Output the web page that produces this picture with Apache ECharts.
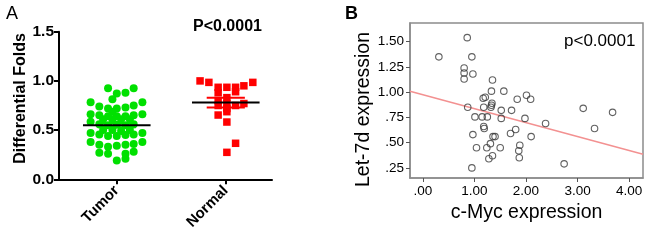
<!DOCTYPE html>
<html>
<head>
<meta charset="utf-8">
<script src="https://cdn.jsdelivr.net/npm/echarts@6.0.0/dist/echarts.min.js"></script>
<style>html,body{margin:0;padding:0;background:#fff;}#c{width:650px;height:243px;}</style>
</head>
<body>
<div id="c"></div>
<script>
// ---------- Panel A data ----------
const categories = ['Tumor', 'Normal'];
const yTicksA = [0, 0.5, 1.0, 1.5];
// jitter offsets (category units) and values
const tumorJitter = [-0.08, 0, 0.08, 0.155,
  -0.04,
  -0.24, 0.235,
  -0.16, -0.08, 0, 0.08, 0.155,
  -0.04,
  -0.24, -0.16, -0.08, 0, 0.08, 0.155, 0.235,
  -0.125, -0.04, 0.04, 0.12,
  -0.24, -0.16, -0.08, 0, 0.08, 0.155,
  -0.125, -0.04, 0.04, 0.12,
  -0.24, -0.16, -0.08, 0, 0.08, 0.155, 0.235,
  -0.24, -0.16, -0.08, 0, 0.08, 0.155, 0.235,
  -0.16, -0.08, 0.08, 0.155,
  0, 0.08];
const tumorValues = [0.925, 0.873, 0.88, 0.925,
  0.813,
  0.783, 0.783,
  0.74, 0.72, 0.72, 0.73, 0.75,
  0.687,
  0.66, 0.65, 0.64, 0.64, 0.64, 0.65, 0.66,
  0.61, 0.61, 0.61, 0.61,
  0.585, 0.56, 0.55, 0.555, 0.55, 0.56,
  0.50, 0.50, 0.49, 0.50,
  0.47, 0.455, 0.44, 0.44, 0.45, 0.455, 0.47,
  0.38, 0.35, 0.33, 0.34, 0.35, 0.36, 0.38,
  0.27, 0.26, 0.26, 0.28,
  0.19, 0.21];
const normalJitter = [-0.236, -0.155, -0.07, 0.01, 0.09, 0.166, 0.248,
  -0.07, 0.09, 0.01, -0.07, 0.01, -0.07, 0.09, 0.166, 0.01, 0.01, -0.07, 0.01, 0.09, 0.01];
const normalValues = [1.00, 0.985, 0.935, 0.935, 0.935, 0.95, 0.985,
  0.88, 0.89, 0.83, 0.80, 0.77, 0.75, 0.75, 0.77, 0.72, 0.687, 0.653, 0.582, 0.366, 0.274];
const groupMeans = [0.55, 0.78];
const groupSEM = [0.02, 0.05];
const pTextA = 'P<0.0001';

// ---------- Panel B data ----------
const mycValues = [0.86, 0.31, 0.95, 0.80, 0.80, 0.97, 0.80, 1.35, 1.33, 1.57, 1.21, 1.17, 1.83, 2.01, 2.09,
  1.34, 1.33, 1.32, 0.87, 1.18, 1.52, 1.72, 3.11, 3.68, 1.01, 1.15, 1.25, 1.52, 1.98, 1.18, 1.19, 2.38,
  3.33, 1.80, 1.70, 0.97, 1.36, 1.40, 2.10, 1.31, 1.24, 1.50, 1.88, 1.04, 1.86, 1.35, 1.28, 1.87, 0.95, 2.74];
const let7dValues = [1.54, 1.35, 1.35, 1.24, 1.19, 1.18, 1.13, 1.12, 1.01, 1.01, 0.95, 0.94, 0.93, 0.97, 0.93,
  0.89, 0.87, 0.85, 0.85, 0.85, 0.82, 0.82, 0.84, 0.80, 0.755, 0.755, 0.755, 0.74, 0.74, 0.66, 0.64, 0.69,
  0.64, 0.63, 0.59, 0.58, 0.56, 0.56, 0.56, 0.49, 0.45, 0.45, 0.475, 0.45, 0.42, 0.37, 0.34, 0.35, 0.25, 0.29];
const regressionIntercept = 0.975;
const regressionSlope = -0.138;
const xTicksB = [0, 1, 2, 3, 4];
const yTicksB = [0.25, 0.5, 0.75, 1.0, 1.25, 1.5];
const pTextB = 'p<0.0001';

// ---------- build ----------
const FONT = 'Liberation Sans, Arial, sans-serif';
const groupColors = ['#00e000', '#ff0000'];
const xMinB = -0.25, xMaxB = 4.27;

const tumorData = tumorValues.map((v, i) => [1 + tumorJitter[i], v]);
const normalData = normalValues.map((v, i) => [2 + normalJitter[i], v]);
const meanData = groupMeans.map((m, i) => [i + 1, m, groupSEM[i]]);
const scatterB = mycValues.map((x, i) => [x, let7dValues[i]]);
const regLine = [[xMinB, regressionIntercept + regressionSlope * xMinB],
                 [xMaxB, regressionIntercept + regressionSlope * xMaxB]];

const chart = echarts.init(document.getElementById('c'), null, {renderer: 'canvas'});
chart.setOption({
  animation: false,
  backgroundColor: '#fff',
  textStyle: {fontFamily: FONT},
  grid: [
    {left: 59, top: 31.7, width: 213, height: 147.6, outerBoundsMode: 'none', containLabel: false},
    {left: 410, top: 23, width: 233, height: 155, outerBoundsMode: 'none', containLabel: false,
     show: true, borderColor: '#8c8c8c', borderWidth: 1.5, backgroundColor: 'transparent'}
  ],
  xAxis: [
    {gridIndex: 0, type: 'value', min: 0.47, max: 2.424,
     axisLine: {show: true, onZero: false, lineStyle: {color: '#000', width: 2}},
     axisTick: {show: true, length: 5, lineStyle: {color: '#000', width: 2}, customValues: [1, 2]},
     axisLabel: {customValues: [1, 2], rotate: 45, margin: 9, color: '#000', fontSize: 15, fontWeight: 'bold',
       fontFamily: FONT, formatter: v => categories[Math.round(v) - 1] || ''},
     splitLine: {show: false}},
    {gridIndex: 1, type: 'value', min: xMinB, max: xMaxB,
     name: 'c-Myc expression', nameLocation: 'middle', nameGap: 24,
     nameTextStyle: {fontSize: 19.5, color: '#000', fontFamily: FONT},
     axisLine: {show: true, onZero: false, lineStyle: {color: '#8c8c8c', width: 1.5}},
     axisTick: {show: true, length: 4, customValues: xTicksB, lineStyle: {color: '#555', width: 1}},
     axisLabel: {customValues: xTicksB, margin: 6, color: '#000', fontSize: 13.5, fontFamily: FONT,
       formatter: v => (v === 0 ? '.00' : v.toFixed(2))},
     splitLine: {show: false}}
  ],
  yAxis: [
    {gridIndex: 0, type: 'value', min: 0, max: 1.5, interval: 0.5,
     name: 'Differential Folds', nameLocation: 'middle', nameGap: 30, nameRotate: 90,
     nameTextStyle: {fontSize: 16, fontWeight: 'bold', color: '#000', fontFamily: FONT, padding: [0, 0, 0, 14]},
     axisLine: {show: true, onZero: false, lineStyle: {color: '#000', width: 2}},
     axisTick: {show: true, length: 5, customValues: yTicksA, lineStyle: {color: '#000', width: 2}},
     axisLabel: {customValues: yTicksA, margin: 5, color: '#000', fontSize: 15.5, fontWeight: 'bold', fontFamily: FONT,
       formatter: v => v.toFixed(1)},
     splitLine: {show: false}},
    {gridIndex: 1, type: 'value', min: 0.15, max: 1.685,
     name: 'Let-7d expression', nameLocation: 'middle', nameGap: 28, nameRotate: 90,
     nameTextStyle: {fontSize: 19.5, color: '#000', fontFamily: FONT, padding: [0, 18, 0, 0]},
     axisLine: {show: true, onZero: false, lineStyle: {color: '#8c8c8c', width: 1.5}},
     axisTick: {show: true, length: 4, customValues: yTicksB, lineStyle: {color: '#555', width: 1}},
     axisLabel: {customValues: yTicksB, margin: 6, color: '#000', fontSize: 13.5, fontFamily: FONT,
       formatter: v => (v < 1 ? v.toFixed(2).replace(/^0/, '') : v.toFixed(2))},
     splitLine: {show: false}}
  ],
  series: [
    {type: 'scatter', xAxisIndex: 0, yAxisIndex: 0, data: tumorData, symbol: 'circle', symbolSize: 8,
     itemStyle: {color: groupColors[0], opacity: 1}, z: 2},
    {type: 'scatter', xAxisIndex: 0, yAxisIndex: 0, data: normalData, symbol: 'rect', symbolSize: 7.5,
     itemStyle: {color: groupColors[1], opacity: 1}, z: 2},
    {type: 'custom', xAxisIndex: 0, yAxisIndex: 0, data: meanData, z: 5,
     renderItem: function (params, api) {
       const c = api.value(0), m = api.value(1), s = api.value(2);
       const col = groupColors[params.dataIndex];
       const p = (x, y) => api.coord([x, y]);
       const line = (a, b, stroke, w) => ({type: 'line', shape: {x1: a[0], y1: a[1], x2: b[0], y2: b[1]},
         style: {stroke: stroke, lineWidth: w}});
       return {type: 'group', children: [
         line(p(c, m - s), p(c, m + s), col, 2),
         line(p(c - 0.175, m + s), p(c + 0.175, m + s), col, 2),
         line(p(c - 0.175, m - s), p(c + 0.175, m - s), col, 2),
         line(p(c - 0.31, m), p(c + 0.31, m), '#000', 2)
       ]};
     }},
    {type: 'line', xAxisIndex: 1, yAxisIndex: 1, data: regLine, symbol: 'none',
     lineStyle: {color: '#f39191', width: 1.5}, z: 1, silent: true},
    {type: 'scatter', xAxisIndex: 1, yAxisIndex: 1, data: scatterB, symbol: 'circle', symbolSize: 6.5,
     itemStyle: {color: 'rgba(255,255,255,0)', borderColor: '#3a3a3a', borderWidth: 1.1}, z: 3}
  ],
  graphic: [
    {type: 'text', x: 6, y: 14, style: {text: 'A', fontSize: 18, fontFamily: FONT, fill: '#000', align: 'left', verticalAlign: 'middle'}},
    {type: 'text', x: 345, y: 14, style: {text: 'B', fontSize: 18, fontWeight: 'bold', fontFamily: FONT, fill: '#000', align: 'left', verticalAlign: 'middle'}},
    {type: 'text', x: 193, y: 27, style: {text: pTextA, fontSize: 16, fontWeight: 'bold', fontFamily: FONT, fill: '#000', align: 'left', verticalAlign: 'middle'}},
    {type: 'text', x: 564, y: 41, style: {text: pTextB, fontSize: 17, fontFamily: FONT, fill: '#000', align: 'left', verticalAlign: 'middle'}}
  ]
});
</script>
</body>
</html>
